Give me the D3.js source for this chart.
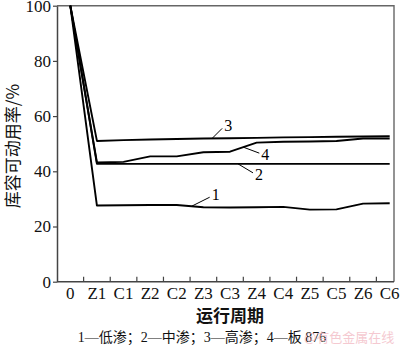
<!DOCTYPE html>
<html>
<head>
<meta charset="utf-8">
<script src="https://cdn.jsdelivr.net/npm/d3@7"></script>
<style>
  html, body { margin: 0; padding: 0; background: #fff; }
  svg { display: block; }
  .tick text { font-family: "Liberation Serif", "Noto Sans CJK SC", serif; }
</style>
</head>
<body>
<div id="chart"></div>
<script>
// Run periods on the x axis
const categories = ["0", "Z1", "C1", "Z2", "C2", "Z3", "C3", "Z4", "C4", "Z5", "C5", "Z6", "C6"];
// Usable storage ratio (%) per series
const lowPerm = [100, 27.6, 27.7, 27.8, 27.8, 27.0, 26.9, 27.0, 27.1, 26.1, 26.2, 28.3, 28.4];
const midPerm = [100, 42.7, 42.7, 42.7, 42.7, 42.7, 42.7, 42.7, 42.7, 42.7, 42.7, 42.7, 42.7];
const highPerm = [100, 51.0, 51.3, 51.5, 51.7, 51.9, 52.0, 52.1, 52.3, 52.4, 52.5, 52.6, 52.7];
const board876 = [100, 43.2, 43.4, 45.4, 45.4, 46.9, 47.1, 50.4, 50.7, 50.8, 51.0, 51.9, 51.9];
const yTicks = [0, 20, 40, 60, 80, 100];
const seriesNames = ["1", "2", "3", "4"];

const width = 400;
const height = 347;
const plotLeft = 57;
const plotRight = 394;
const plotTop = 5.7;
const plotBottom = 281.7;

const svg = d3.select("#chart").append("svg")
  .attr("width", width)
  .attr("height", height);

const x = d3.scaleBand().domain(categories).range([plotLeft, 403]).paddingInner(0).paddingOuter(0);
const xc = function (c) { return x(c) + x.bandwidth() / 2; };
const y = d3.scaleLinear().domain([0, 100]).range([plotBottom, plotTop]);

// frame: top and right edges
svg.append("path")
  .attr("d", "M" + plotLeft + "," + plotTop + "H" + plotRight + "V" + plotBottom)
  .attr("fill", "none")
  .attr("stroke", "#666")
  .attr("stroke-width", 1.4);

// y axis
const yAxis = svg.append("g")
  .attr("transform", "translate(" + plotLeft + ",0)")
  .call(d3.axisLeft(y).tickValues(yTicks).tickSize(4).tickPadding(2).tickSizeOuter(0));
yAxis.select(".domain").attr("stroke", "#444").attr("stroke-width", 1.5);
yAxis.selectAll(".tick line").attr("stroke", "#444").attr("stroke-width", 1.2);
yAxis.selectAll(".tick text").attr("font-size", 17).attr("fill", "#111");

// x axis: labels at band centres, ticks at band boundaries pointing inward
const xAxis = svg.append("g")
  .attr("transform", "translate(0," + plotBottom + ")")
  .call(d3.axisBottom(x).tickSize(0).tickPadding(5));
xAxis.select(".domain").remove();
xAxis.selectAll(".tick text").attr("font-size", 17).attr("fill", "#111");
svg.append("line")
  .attr("x1", plotLeft).attr("x2", plotRight)
  .attr("y1", plotBottom).attr("y2", plotBottom)
  .attr("stroke", "#444").attr("stroke-width", 1.5);
svg.selectAll(".xb")
  .data(categories.slice(1))
  .enter().append("line")
  .attr("x1", function (d) { return x(d); })
  .attr("x2", function (d) { return x(d); })
  .attr("y1", plotBottom)
  .attr("y2", plotBottom - 5)
  .attr("stroke", "#444")
  .attr("stroke-width", 1.2);

// series lines
const allSeries = [lowPerm, midPerm, highPerm, board876];
const line = d3.line()
  .x(function (d, i) { return xc(categories[i]); })
  .y(function (d) { return y(d); });
svg.selectAll(".series")
  .data(allSeries)
  .enter().append("path")
  .attr("d", line)
  .attr("fill", "none")
  .attr("stroke", "#000")
  .attr("stroke-width", 1.9)
  .attr("stroke-linejoin", "round");

// point on a series between category i and i+1
function along(values, i, t) {
  return [
    xc(categories[i]) + t * x.bandwidth(),
    y(values[i] + t * (values[i + 1] - values[i]))
  ];
}

// series number labels with leader lines
const labelAnchors = [
  { s: 0, i: 4, t: 0.56, dx: 18, dy: -9 },
  { s: 1, i: 6, t: 0.3, dx: 15, dy: 9 },
  { s: 2, i: 5, t: 0.33, dx: 10, dy: -10 },
  { s: 3, i: 6, t: 0.5, dx: 16, dy: 6 }
];
labelAnchors.forEach(function (a) {
  const p = along(allSeries[a.s], a.i, a.t);
  svg.append("line")
    .attr("x1", p[0]).attr("y1", p[1])
    .attr("x2", p[0] + a.dx).attr("y2", p[1] + a.dy)
    .attr("stroke", "#000").attr("stroke-width", 1);
  svg.append("text")
    .attr("x", p[0] + a.dx + 2)
    .attr("y", p[1] + a.dy + (a.dy < 0 ? 3 : 7))
    .attr("font-family", "Liberation Serif, serif")
    .attr("font-size", 16)
    .attr("fill", "#000")
    .text(seriesNames[a.s]);
});

// axis titles
svg.append("text")
  .attr("transform", "translate(19," + 146 + ") rotate(-90)")
  .attr("text-anchor", "middle")
  .attr("font-family", "Noto Sans CJK SC, sans-serif")
  .attr("font-size", 17)
  .attr("fill", "#111")
  .text("库容可动用率/%");

svg.append("text")
  .attr("x", 230)
  .attr("y", 322)
  .attr("text-anchor", "middle")
  .attr("font-family", "Noto Sans CJK SC, sans-serif")
  .attr("font-size", 17)
  .attr("font-weight", "bold")
  .attr("fill", "#111")
  .text("运行周期");

// caption
svg.append("text")
  .attr("x", 202)
  .attr("y", 342)
  .attr("text-anchor", "middle")
  .attr("font-family", "Liberation Serif, Noto Sans CJK SC, serif")
  .attr("font-size", 14)
  .attr("fill", "#111")
  .text("1—低渗；2—中渗；3—高渗；4—板 876");

// watermark
svg.append("text")
  .attr("x", 304)
  .attr("y", 342)
  .attr("font-family", "Noto Sans CJK SC, sans-serif")
  .attr("font-size", 13)
  .attr("fill", "#f2b8c2")
  .attr("opacity", 0.75)
  .text("@有色金属在线");
</script>
</body>
</html>
